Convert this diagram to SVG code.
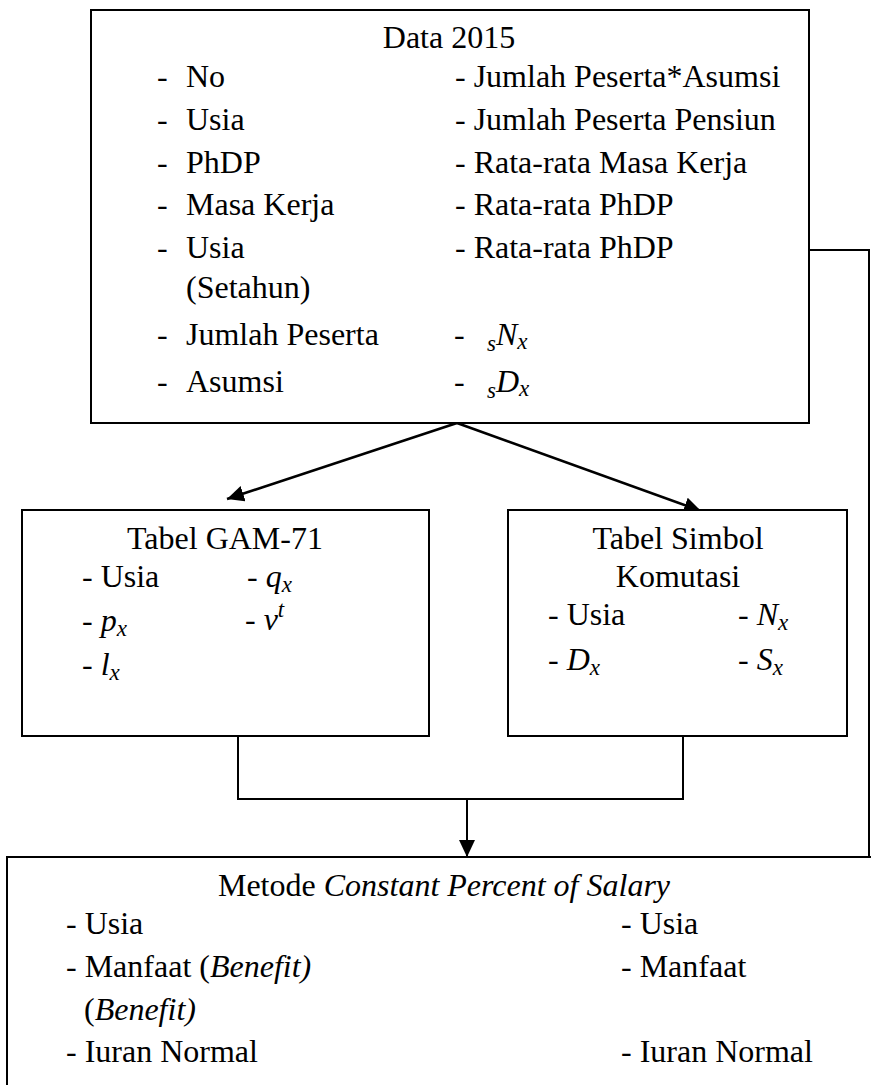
<svg xmlns="http://www.w3.org/2000/svg" width="871" height="1085" viewBox="0 0 871 1085">
  <defs>
    <style>
      .box { fill: #fff; stroke: #000; stroke-width: 2; }
      .ln { fill: none; stroke: #000; stroke-width: 2; }
      .arr { fill: none; stroke: #000; stroke-width: 2.6; }
      text { font-family: 'Liberation Serif', 'Times New Roman', serif; font-size: 32px; fill: #000; }
      .m { font-style: italic; }
      .sub { font-size: 23px; font-style: italic; }
      .mid { text-anchor: middle; }
    </style>
    <marker id="ah" viewBox="0 0 17 16" refX="17" refY="8" markerWidth="17" markerHeight="16" markerUnits="userSpaceOnUse" orient="auto">
      <path d="M0,0 L17,8 L0,16 Z" fill="#000"/>
    </marker>
  </defs>

  <!-- connectors -->
  <g id="connectors">
    <line class="arr" x1="457" y1="423" x2="227" y2="499" marker-end="url(#ah)"/>
    <line class="arr" x1="457" y1="423" x2="701" y2="511" marker-end="url(#ah)"/>
    <polyline class="ln" points="238,736 238,799 683,799 683,736"/>
    <line class="ln" x1="467" y1="799" x2="467" y2="857" marker-end="url(#ah)"/>
    <polyline class="ln" points="809,250 869,250 869,858"/>
  </g>

  <!-- top node: Data 2015 -->
  <g id="data2015">
    <rect class="box" x="91" y="10" width="718" height="413"/>
    <text class="mid" x="449" y="48">Data 2015</text>
    <text x="157" y="87">-</text><text x="186" y="87">No</text>
    <text x="157" y="130">-</text><text x="186" y="130">Usia</text>
    <text x="157" y="173">-</text><text x="186" y="173">PhDP</text>
    <text x="157" y="215">-</text><text x="186" y="215">Masa Kerja</text>
    <text x="157" y="258">-</text><text x="186" y="258">Usia</text>
    <text x="186" y="298">(Setahun)</text>
    <text x="157" y="345">-</text><text x="186" y="345">Jumlah Peserta</text>
    <text x="157" y="392">-</text><text x="186" y="392">Asumsi</text>
    <text x="455" y="87">- Jumlah Peserta*Asumsi</text>
    <text x="455" y="130">- Jumlah Peserta Pensiun</text>
    <text x="455" y="173">- Rata-rata Masa Kerja</text>
    <text x="455" y="215">- Rata-rata PhDP</text>
    <text x="455" y="258">- Rata-rata PhDP</text>
    <text x="454" y="345">-</text>
    <text x="487" y="345"><tspan class="sub" dy="6">s</tspan><tspan class="m" dy="-6">N</tspan><tspan class="sub" dy="4">x</tspan></text>
    <text x="454" y="392">-</text>
    <text x="487" y="392"><tspan class="sub" dy="6">s</tspan><tspan class="m" dy="-6">D</tspan><tspan class="sub" dy="4">x</tspan></text>
  </g>

  <!-- left node: Tabel GAM-71 -->
  <g id="gam71">
    <rect class="box" x="22" y="510" width="407" height="226"/>
    <text class="mid" x="225" y="549">Tabel GAM-71</text>
    <text x="82" y="587">- Usia</text>
    <text x="247" y="587">- <tspan class="m">q</tspan><tspan class="sub" dy="5">x</tspan></text>
    <text x="82" y="631">- <tspan class="m">p</tspan><tspan class="sub" dy="5">x</tspan></text>
    <text x="245" y="630">- <tspan class="m">v</tspan><tspan class="sub" dy="-13">t</tspan></text>
    <text x="82" y="675">- <tspan class="m">l</tspan><tspan class="sub" dy="5">x</tspan></text>
  </g>

  <!-- right node: Tabel Simbol Komutasi -->
  <g id="komutasi">
    <rect class="box" x="508" y="510" width="339" height="226"/>
    <text class="mid" x="678" y="549">Tabel Simbol</text>
    <text class="mid" x="678" y="587">Komutasi</text>
    <text x="548" y="625">- Usia</text>
    <text x="738" y="625">- <tspan class="m">N</tspan><tspan class="sub" dy="5">x</tspan></text>
    <text x="548" y="670">- <tspan class="m">D</tspan><tspan class="sub" dy="5">x</tspan></text>
    <text x="738" y="670">- <tspan class="m">S</tspan><tspan class="sub" dy="5">x</tspan></text>
  </g>

  <!-- bottom node: Metode Constant Percent of Salary -->
  <g id="metode">
    <rect class="box" x="7" y="857" width="880" height="240"/>
    <text class="mid" x="444" y="896">Metode <tspan class="m">Constant Percent of Salary</tspan></text>
    <text x="66" y="934">- Usia</text>
    <text x="66" y="977">- Manfaat (<tspan class="m">Benefit)</tspan></text>
    <text x="84" y="1020">(<tspan class="m">Benefit)</tspan></text>
    <text x="66" y="1062">- Iuran Normal</text>
    <text x="621" y="934">- Usia</text>
    <text x="621" y="977">- Manfaat</text>
    <text x="621" y="1062">- Iuran Normal</text>
  </g>
</svg>
